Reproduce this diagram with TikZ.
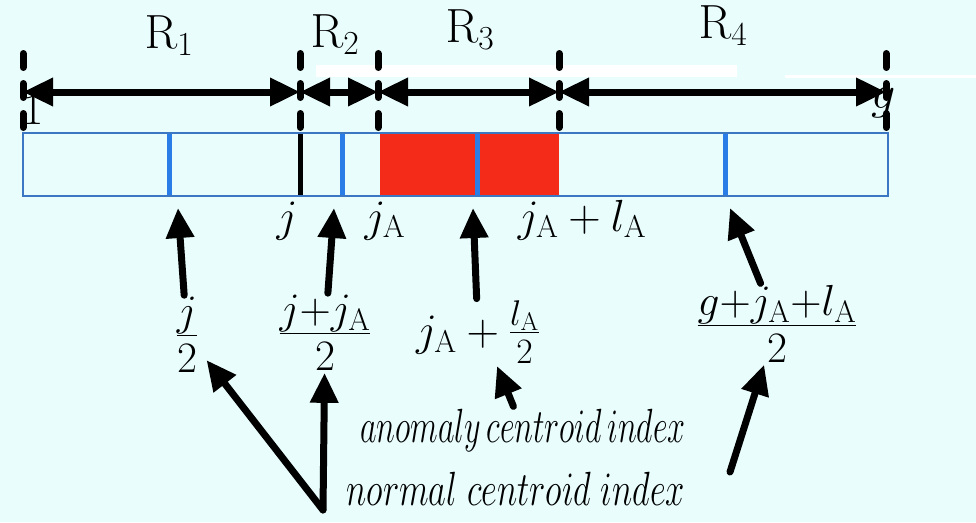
\RequirePackage{fix-cm}
\documentclass[tikz,border=0pt]{standalone}
\usepackage{amsmath}
\usepackage{graphicx}
\usetikzlibrary{arrows.meta,positioning}
\definecolor{bgcyan}{HTML}{E9FDFD}
\definecolor{edgeblue}{HTML}{3B77C2}
\definecolor{cutblue}{HTML}{2A7DE6}
\definecolor{anomred}{HTML}{F42B18}
\newcommand{\fsz}[1]{\fontsize{#1}{#1}\selectfont}
\newcommand{\jA}{j_{\mathrm{A}}}
\newcommand{\lA}{l_{\mathrm{A}}}

\begin{document}
\begin{tikzpicture}[x=1pt,y=-1pt,>={Triangle[length=30pt,width=27pt]},
  marker/.style={line width=7pt,line cap=round,dash pattern=on 14pt off 16pt},
  span/.style={<->,line width=7pt},
  pointer/.style={->,line width=7pt,line cap=round},
  cut/.style={cutblue,line width=5pt},
  rlabel/.style={anchor=base,font=\fsz{48},inner sep=0pt},
  idx/.style={anchor=base,font=\fsz{45},inner sep=0pt},
  formula/.style={font=\fsz{62},inner sep=2pt},
  caption/.style={anchor=base,font=\fsz{48},inner sep=2pt}]
  \def\barT{133}
  \def\barB{196}
  \useasboundingbox (0,0) rectangle (976,522);
  \fill[bgcyan] (0,0) rectangle (976,522);
  \fill[white] (316,65) rectangle (737,77);
  \fill[white] (785,75) rectangle (976,78);

  % sequence bar
  \fill[anomred] (380,\barT) rectangle (559,\barB);
  \foreach \x in {169,342,477,725}
    \draw[cut] (\x,\barT) -- (\x,\barB);
  \draw[line width=5pt] (300,\barT) -- (300,\barB);
  \draw[edgeblue,line width=2pt] (23,\barT) rectangle (888,\barB);

  % end labels
  \node[font=\fsz{45},inner sep=0pt] (one) at (33,110) {$1$};
  \node[font=\fsz{48},inner sep=0pt] (gee) at (884,103) {$g$};

  % region markers and spans
  \foreach \x [count=\i from 0] in {23,300,378,559,886} {
    \draw[marker] (\x,53.5) -- (\x,129.5);
    \coordinate (m\i) at (\x,92);
  }
  \draw[span] (m0) -- (m1);
  \draw[span] (m1) -- (m2);
  \draw[span] (m2) -- (m3);
  \draw[span] (m3) -- (m4);

  \node[rlabel] (r1) at (169,48) {$\mathrm{R}_1$};
  \node[rlabel] (r2) at (335,47) {$\mathrm{R}_2$};
  \node[rlabel] (r3) at (470,42) {$\mathrm{R}_3$};
  \node[rlabel] (r4) at (723,38) {$\mathrm{R}_4$};

  % indices under the bar
  \node[idx] (j) at (287,231) {$j$};
  \node[idx] (ja) at (385,231) {$\jA$};
  \node[idx] (jal) at (582,231) {$\jA+\lA$};

  % centroid formulas
  \node[formula] (f1) at (187,335) {$\frac{j}{2}$};
  \node[formula] (f2) at (325,333) {$\frac{j+\jA}{2}$};
  \node[formula,font=\fsz{45}] (f3) at (478,332) {$\jA+\mbox{\fsz{51}$\frac{\lA}{2}$}$};
  \node[formula] (f4) at (777,324) {$\frac{g+\jA+\lA}{2}$};

  \coordinate (c1) at (178,208);
  \coordinate (c2) at (334,208);
  \coordinate (c3) at (473,208);
  \coordinate (c4) at (730,208);
  \draw[pointer] (f1) -- (c1);
  \draw[pointer] (f2) -- (c2);
  \draw[pointer] (f3) -- (c3);
  \draw[pointer] (f4) -- (c4);

  % captions
  \node[caption] (anom) at (523,442) {\scalebox{0.67}[1]{$anomaly\,centroid\,index$}};
  \node[caption] (norm) at (516,505) {\scalebox{0.72}[1]{$normal\;centroid\;index$}};
  \coordinate (vtx) at (323,510);
  \coordinate (atip) at (497,366);
  \coordinate (rtail) at (730,472);
  \draw[pointer] (anom) -- (atip);
  \draw[pointer,shorten >=10pt] (vtx) -- (f1);
  \draw[pointer] (vtx) -- (f2);
  \draw[pointer] (rtail) -- (f4);
\end{tikzpicture}
\end{document}
